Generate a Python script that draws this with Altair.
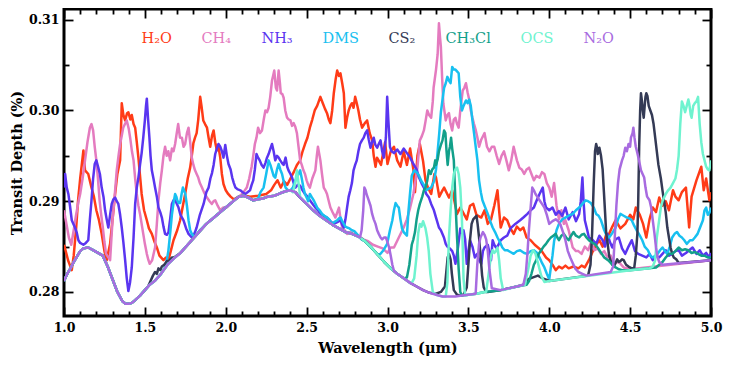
import altair as alt
import pandas as pd

NAMES = ["H₂O", "CH₄", "NH₃", "DMS", "CS₂", "CH₃Cl", "OCS", "N₂O"]
COLORS = ["#ff3b17", "#e47bbf", "#5a35f0", "#18c0f0", "#343a55", "#12a08a", "#6ff3cf", "#a86be0"]

X_TICKS = [1.0, 1.5, 2.0, 2.5, 3.0, 3.5, 4.0, 4.5, 5.0]
X_MINOR = [1.1, 1.2, 1.3, 1.4, 1.6, 1.7, 1.8, 1.9, 2.1, 2.2, 2.3, 2.4, 2.6, 2.7, 2.8, 2.9,
           3.1, 3.2, 3.3, 3.4, 3.6, 3.7, 3.8, 3.9, 4.1, 4.2, 4.3, 4.4, 4.6, 4.7, 4.8, 4.9]
Y_TICKS = [0.28, 0.29, 0.30, 0.31]
Y_MINOR = [0.285, 0.295, 0.305]

# shared continuum (wavelength um, transit depth %)
CONT = [(1.00, 0.2812), (1.02, 0.2820), (1.04, 0.2826), (1.06, 0.2833), (1.08, 0.2839), (1.10, 0.2845),
        (1.12, 0.2848), (1.15, 0.2849), (1.18, 0.2846), (1.21, 0.2843), (1.24, 0.2840), (1.27, 0.2828),
        (1.30, 0.2814), (1.33, 0.2800), (1.36, 0.2790), (1.38, 0.2787), (1.40, 0.2787), (1.42, 0.2788),
        (1.44, 0.2791), (1.47, 0.2796), (1.50, 0.2802), (1.53, 0.2808), (1.56, 0.2812), (1.60, 0.2820),
        (1.64, 0.2830), (1.68, 0.2837), (1.72, 0.2843), (1.76, 0.2851), (1.80, 0.2859), (1.84, 0.2867),
        (1.88, 0.2875), (1.92, 0.2881), (1.96, 0.2887), (2.00, 0.2893), (2.04, 0.2899), (2.08, 0.2905),
        (2.11, 0.2906), (2.14, 0.2904), (2.17, 0.2901), (2.20, 0.2902), (2.23, 0.2903), (2.26, 0.2905),
        (2.30, 0.2906), (2.34, 0.2909), (2.37, 0.2911), (2.40, 0.2912), (2.43, 0.2910), (2.46, 0.2904),
        (2.50, 0.2897), (2.54, 0.2890), (2.58, 0.2884), (2.62, 0.2879), (2.66, 0.2874), (2.70, 0.2870),
        (2.74, 0.2866), (2.78, 0.2864), (2.82, 0.2861), (2.86, 0.2856), (2.90, 0.2849), (2.94, 0.2841),
        (2.98, 0.2833), (3.02, 0.2826), (3.06, 0.2820), (3.10, 0.2815), (3.14, 0.2810), (3.18, 0.2806),
        (3.22, 0.2802), (3.26, 0.2799), (3.30, 0.2797), (3.34, 0.2795), (3.38, 0.2795), (3.42, 0.2795),
        (3.46, 0.2796), (3.50, 0.2797), (3.55, 0.2798), (3.60, 0.2800), (3.70, 0.2802), (3.80, 0.2806),
        (3.90, 0.2809), (4.00, 0.2812), (4.50, 0.2824), (5.00, 0.2835)]

H2O = [[(1.00, 0.2852), (1.005, 0.2849), (1.025, 0.2835), (1.048, 0.2824), (1.06, 0.2840), (1.075, 0.2870),
        (1.087, 0.2901), (1.10, 0.2925), (1.12, 0.2956), (1.13, 0.2934), (1.15, 0.2930), (1.17, 0.2915),
        (1.185, 0.2905), (1.20, 0.2890), (1.215, 0.2880), (1.233, 0.2864), (1.25, 0.2845), (1.264, 0.2835),
        (1.285, 0.2853), (1.30, 0.2880), (1.316, 0.2908), (1.33, 0.2930), (1.347, 0.2945), (1.357, 0.3008),
        (1.367, 0.2995), (1.378, 0.2989), (1.39, 0.2997), (1.398, 0.2998), (1.41, 0.2990), (1.419, 0.2995),
        (1.43, 0.2985), (1.44, 0.2981), (1.45, 0.2965), (1.46, 0.2948), (1.48, 0.2908), (1.495, 0.2890),
        (1.512, 0.2879), (1.525, 0.2870), (1.543, 0.2864), (1.56, 0.2855), (1.574, 0.2849), (1.59, 0.2840),
        (1.615, 0.2835), (1.63, 0.2838), (1.646, 0.2835), (1.66, 0.2845), (1.677, 0.2857), (1.70, 0.2868),
        (1.718, 0.2879), (1.735, 0.2895), (1.749, 0.2908), (1.765, 0.2925), (1.78, 0.2937), (1.79, 0.2950),
        (1.80, 0.2964), (1.81, 0.2970), (1.82, 0.2975), (1.83, 0.2990), (1.842, 0.3015), (1.85, 0.3005),
        (1.861, 0.2989), (1.872, 0.2985), (1.884, 0.2981), (1.894, 0.2970), (1.904, 0.2960), (1.915, 0.2972),
        (1.925, 0.2978), (1.935, 0.2965), (1.945, 0.2956), (1.955, 0.2960), (1.966, 0.2948), (1.976, 0.2930),
        (1.986, 0.2919), (2.00, 0.2912), (2.015, 0.2908), (2.03, 0.2905), (2.05, 0.2902), (2.07, 0.2904),
        (2.10, 0.2907), (2.15, 0.2905), (2.20, 0.2906), (2.25, 0.2908), (2.28, 0.2912), (2.30, 0.2918),
        (2.32, 0.2923), (2.34, 0.2915), (2.36, 0.2922), (2.38, 0.2918), (2.40, 0.2925), (2.42, 0.2932),
        (2.44, 0.2940), (2.46, 0.2945), (2.475, 0.2955), (2.49, 0.2963), (2.505, 0.2970), (2.52, 0.2981),
        (2.535, 0.2990), (2.55, 0.3000), (2.565, 0.3005), (2.585, 0.3015), (2.60, 0.3008), (2.613, 0.3002),
        (2.626, 0.2997), (2.637, 0.2990), (2.647, 0.2986), (2.658, 0.3000), (2.668, 0.3019), (2.68, 0.3035),
        (2.689, 0.3044), (2.70, 0.3038), (2.709, 0.3041), (2.72, 0.3030), (2.73, 0.3019), (2.74, 0.2981),
        (2.75, 0.2992), (2.76, 0.3000), (2.77, 0.3005), (2.78, 0.3008), (2.79, 0.3003), (2.80, 0.3015),
        (2.81, 0.3008), (2.82, 0.3000), (2.83, 0.2990), (2.843, 0.2981), (2.86, 0.2986), (2.874, 0.2989),
        (2.89, 0.2975), (2.905, 0.2967), (2.915, 0.2950), (2.926, 0.2938), (2.935, 0.2948), (2.945, 0.2945),
        (2.96, 0.2940), (2.97, 0.2950), (2.985, 0.2965), (3.00, 0.2941), (3.02, 0.2955), (3.04, 0.2960),
        (3.06, 0.2945), (3.08, 0.2938), (3.10, 0.2955), (3.12, 0.2940), (3.14, 0.2958), (3.16, 0.2935),
        (3.17, 0.2910), (3.185, 0.2950), (3.20, 0.2963), (3.22, 0.2944), (3.235, 0.2923), (3.25, 0.2915),
        (3.27, 0.2908), (3.29, 0.2930), (3.30, 0.2926), (3.32, 0.2905), (3.34, 0.2912), (3.35, 0.2915),
        (3.38, 0.2904), (3.40, 0.2912), (3.43, 0.2886), (3.45, 0.2893), (3.46, 0.2890), (3.49, 0.2880),
        (3.51, 0.2895), (3.53, 0.2897), (3.55, 0.2885), (3.58, 0.2882), (3.60, 0.2890), (3.62, 0.2875),
        (3.64, 0.2880), (3.66, 0.2895), (3.68, 0.2912), (3.69, 0.2890), (3.70, 0.2871), (3.72, 0.2882),
        (3.74, 0.2879), (3.76, 0.2870), (3.78, 0.2864), (3.80, 0.2872), (3.82, 0.2868), (3.84, 0.2871),
        (3.86, 0.2860), (3.885, 0.2857), (3.91, 0.2852), (3.93, 0.2849), (3.95, 0.2846), (3.965, 0.2842),
        (3.98, 0.2838), (4.00, 0.2835), (4.02, 0.2830), (4.04, 0.2824), (4.06, 0.2828), (4.08, 0.2826),
        (4.10, 0.2829), (4.12, 0.2826), (4.15, 0.2828), (4.18, 0.2826), (4.20, 0.2829), (4.22, 0.2827),
        (4.245, 0.2835), (4.27, 0.2845), (4.29, 0.2852), (4.31, 0.2857), (4.33, 0.2850), (4.35, 0.2862),
        (4.37, 0.2864), (4.39, 0.2872), (4.41, 0.2879), (4.44, 0.2870), (4.47, 0.2875), (4.50, 0.2885),
        (4.52, 0.2880), (4.535, 0.2893), (4.56, 0.2885), (4.58, 0.2875), (4.60, 0.2860), (4.62, 0.2880),
        (4.64, 0.2893), (4.66, 0.2888), (4.68, 0.2904), (4.70, 0.2895), (4.72, 0.2900), (4.74, 0.2890),
        (4.765, 0.2912), (4.78, 0.2905), (4.80, 0.2901), (4.82, 0.2910), (4.845, 0.2915), (4.865, 0.2871),
        (4.88, 0.2905), (4.91, 0.2923), (4.94, 0.2938), (4.955, 0.2912), (4.97, 0.2925), (4.99, 0.2901),
        (5.00, 0.2910)]]

CH4 = [[(1.00, 0.2890), (1.015, 0.2875), (1.03, 0.2860), (1.045, 0.2852), (1.06, 0.2868), (1.075, 0.2885),
        (1.09, 0.2900), (1.10, 0.2908), (1.115, 0.2925), (1.13, 0.2945), (1.145, 0.2965), (1.16, 0.2981),
        (1.17, 0.2985), (1.18, 0.2978), (1.19, 0.2960), (1.20, 0.2945), (1.21, 0.2925), (1.22, 0.2901),
        (1.23, 0.2885), (1.24, 0.2871), (1.25, 0.2855), (1.26, 0.2842), (1.275, 0.2838), (1.285, 0.2835),
        (1.30, 0.2879), (1.313, 0.2905), (1.326, 0.2934), (1.337, 0.2950), (1.347, 0.2963), (1.357, 0.2972),
        (1.366, 0.2981), (1.377, 0.2985), (1.388, 0.2989), (1.40, 0.2980), (1.409, 0.2970), (1.42, 0.2955),
        (1.43, 0.2945), (1.44, 0.2925), (1.45, 0.2908), (1.46, 0.2895), (1.47, 0.2886), (1.48, 0.2875),
        (1.49, 0.2864), (1.50, 0.2853), (1.512, 0.2842), (1.522, 0.2835), (1.53, 0.2831), (1.545, 0.2835),
        (1.563, 0.2849), (1.574, 0.2875), (1.584, 0.2901), (1.595, 0.2920), (1.605, 0.2934), (1.615, 0.2950),
        (1.625, 0.2960), (1.635, 0.2950), (1.645, 0.2955), (1.656, 0.2945), (1.667, 0.2958), (1.677, 0.2955),
        (1.687, 0.2963), (1.697, 0.2975), (1.706, 0.2985), (1.717, 0.2970), (1.729, 0.2970), (1.739, 0.2960),
        (1.749, 0.2963), (1.76, 0.2975), (1.77, 0.2981), (1.78, 0.2965), (1.79, 0.2948), (1.80, 0.2940),
        (1.81, 0.2934), (1.82, 0.2930), (1.83, 0.2926), (1.84, 0.2920), (1.853, 0.2915), (1.865, 0.2910),
        (1.884, 0.2904), (1.90, 0.2900), (1.914, 0.2897), (1.925, 0.2900), (1.935, 0.2901), (1.95, 0.2895),
        (1.966, 0.2890), (1.985, 0.2893), (2.007, 0.2893), (2.03, 0.2898), (2.06, 0.2902), (2.09, 0.2906),
        (2.11, 0.2910), (2.13, 0.2915), (2.145, 0.2925), (2.16, 0.2938), (2.17, 0.2950), (2.18, 0.2963),
        (2.19, 0.2970), (2.20, 0.2981), (2.212, 0.2975), (2.224, 0.2978), (2.235, 0.2990), (2.245, 0.3000),
        (2.255, 0.2998), (2.265, 0.3003), (2.275, 0.3015), (2.286, 0.3033), (2.295, 0.3040), (2.30, 0.3044),
        (2.31, 0.3025), (2.317, 0.3022), (2.327, 0.3044), (2.335, 0.3030), (2.34, 0.3019), (2.35, 0.3018),
        (2.358, 0.3014), (2.368, 0.3000), (2.379, 0.2992), (2.39, 0.2990), (2.40, 0.2989), (2.41, 0.2983),
        (2.42, 0.2986), (2.43, 0.2982), (2.44, 0.2975), (2.45, 0.2960), (2.46, 0.2945), (2.47, 0.2940),
        (2.48, 0.2934), (2.49, 0.2930), (2.50, 0.2923), (2.51, 0.2918), (2.52, 0.2915), (2.535, 0.2925),
        (2.554, 0.2934), (2.563, 0.2950), (2.57, 0.2960), (2.578, 0.2952), (2.585, 0.2945), (2.595, 0.2930),
        (2.606, 0.2915), (2.616, 0.2912), (2.626, 0.2908), (2.637, 0.2900), (2.647, 0.2893), (2.66, 0.2888),
        (2.678, 0.2882), (2.69, 0.2888), (2.70, 0.2893), (2.71, 0.2880), (2.72, 0.2871), (2.735, 0.2868),
        (2.75, 0.2864), (2.77, 0.2866), (2.79, 0.2864), (2.82, 0.2862), (2.85, 0.2858), (2.88, 0.2856),
        (2.91, 0.2852), (2.94, 0.2850), (2.97, 0.2848), (3.00, 0.2843), (3.02, 0.2849), (3.04, 0.2849),
        (3.07, 0.2860), (3.10, 0.2871), (3.12, 0.2880), (3.14, 0.2893), (3.16, 0.2908), (3.175, 0.2925),
        (3.185, 0.2937), (3.20, 0.2967), (3.213, 0.2972), (3.225, 0.2978), (3.235, 0.2988), (3.246, 0.3000),
        (3.257, 0.2995), (3.27, 0.2992), (3.28, 0.3010), (3.285, 0.3025), (3.30, 0.3045), (3.31, 0.3062),
        (3.318, 0.3096), (3.325, 0.3080), (3.33, 0.3070), (3.338, 0.3035), (3.345, 0.3008), (3.36, 0.2989),
        (3.37, 0.2995), (3.38, 0.2997), (3.39, 0.2985), (3.40, 0.2978), (3.41, 0.2990), (3.42, 0.2992),
        (3.43, 0.2985), (3.44, 0.2981), (3.45, 0.3000), (3.465, 0.3022), (3.475, 0.3025), (3.485, 0.3030),
        (3.495, 0.3020), (3.505, 0.3012), (3.515, 0.3000), (3.525, 0.2992), (3.535, 0.2985), (3.546, 0.2978),
        (3.556, 0.2970), (3.566, 0.2960), (3.58, 0.2968), (3.60, 0.2975), (3.615, 0.2960), (3.63, 0.2955),
        (3.645, 0.2960), (3.66, 0.2960), (3.675, 0.2950), (3.69, 0.2941), (3.705, 0.2950), (3.72, 0.2955),
        (3.735, 0.2945), (3.75, 0.2934), (3.765, 0.2945), (3.78, 0.2960), (3.80, 0.2945), (3.815, 0.2937),
        (3.83, 0.2935), (3.845, 0.2930), (3.86, 0.2935), (3.875, 0.2937), (3.89, 0.2930), (3.905, 0.2923),
        (3.92, 0.2928), (3.94, 0.2926), (3.955, 0.2932), (3.97, 0.2930), (3.985, 0.2920), (4.00, 0.2915),
        (4.015, 0.2905), (4.03, 0.2920), (4.045, 0.2895), (4.06, 0.2880), (4.075, 0.2890), (4.09, 0.2875),
        (4.10, 0.2879), (4.12, 0.2868), (4.145, 0.2849), (4.165, 0.2845), (4.18, 0.2845), (4.20, 0.2842),
        (4.22, 0.2850), (4.24, 0.2846), (4.26, 0.2855), (4.28, 0.2846), (4.30, 0.2848), (4.32, 0.2842),
        (4.34, 0.2845), (4.36, 0.2838), (4.38, 0.2840), (4.40, 0.2832), (4.43, 0.2833), (4.46, 0.2827),
        (4.50, 0.2825)]]

NH3 = [[(1.00, 0.2915), (1.007, 0.2930), (1.017, 0.2915), (1.027, 0.2908), (1.037, 0.2895), (1.048, 0.2879),
        (1.058, 0.2875), (1.068, 0.2871), (1.078, 0.2866), (1.089, 0.2857), (1.10, 0.2854), (1.12, 0.2852),
        (1.135, 0.2854), (1.15, 0.2857), (1.16, 0.2880), (1.17, 0.2901), (1.18, 0.2925), (1.19, 0.2941),
        (1.20, 0.2945), (1.212, 0.2937), (1.222, 0.2930), (1.233, 0.2915), (1.244, 0.2905), (1.254, 0.2890),
        (1.264, 0.2880), (1.274, 0.2871), (1.285, 0.2885), (1.295, 0.2897), (1.305, 0.2902), (1.316, 0.2904),
        (1.326, 0.2900), (1.336, 0.2897), (1.347, 0.2885), (1.357, 0.2871), (1.367, 0.2855), (1.378, 0.2835),
        (1.388, 0.2815), (1.398, 0.2801), (1.408, 0.2810), (1.419, 0.2827), (1.43, 0.2860), (1.44, 0.2897),
        (1.45, 0.2915), (1.46, 0.2926), (1.47, 0.2940), (1.48, 0.2953), (1.49, 0.2970), (1.50, 0.2989),
        (1.507, 0.3005), (1.512, 0.3013), (1.52, 0.2990), (1.528, 0.2970), (1.535, 0.2950), (1.543, 0.2934),
        (1.553, 0.2925), (1.563, 0.2915), (1.574, 0.2905), (1.584, 0.2893), (1.595, 0.2888), (1.605, 0.2882),
        (1.615, 0.2872), (1.625, 0.2864), (1.636, 0.2863), (1.646, 0.2866), (1.656, 0.2880), (1.667, 0.2897),
        (1.677, 0.2901), (1.687, 0.2901), (1.698, 0.2897), (1.708, 0.2893), (1.72, 0.2885), (1.739, 0.2879),
        (1.755, 0.2870), (1.77, 0.2864), (1.78, 0.2862), (1.79, 0.2860), (1.80, 0.2862), (1.81, 0.2866),
        (1.82, 0.2871), (1.84, 0.2885), (1.863, 0.2897), (1.88, 0.2910), (1.894, 0.2915), (1.905, 0.2925),
        (1.915, 0.2931), (1.925, 0.2940), (1.935, 0.2952), (1.945, 0.2958), (1.955, 0.2963), (1.966, 0.2960),
        (1.976, 0.2955), (1.986, 0.2948), (1.997, 0.2962), (2.007, 0.2950), (2.017, 0.2941), (2.03, 0.2935),
        (2.04, 0.2926), (2.05, 0.2920), (2.06, 0.2915), (2.075, 0.2913), (2.09, 0.2912), (2.105, 0.2910),
        (2.12, 0.2908), (2.135, 0.2910), (2.15, 0.2912), (2.16, 0.2918), (2.17, 0.2923), (2.18, 0.2935),
        (2.19, 0.2952), (2.20, 0.2948), (2.21, 0.2945), (2.222, 0.2940), (2.234, 0.2937), (2.245, 0.2942),
        (2.255, 0.2948), (2.265, 0.2952), (2.276, 0.2958), (2.286, 0.2963), (2.296, 0.2955), (2.306, 0.2945),
        (2.317, 0.2950), (2.327, 0.2948), (2.337, 0.2945), (2.348, 0.2942), (2.358, 0.2940), (2.37, 0.2948),
        (2.38, 0.2938), (2.388, 0.2934), (2.40, 0.2930), (2.41, 0.2926), (2.42, 0.2920), (2.43, 0.2915),
        (2.445, 0.2918), (2.46, 0.2917), (2.475, 0.2912), (2.49, 0.2908), (2.505, 0.2905), (2.52, 0.2901),
        (2.537, 0.2897), (2.554, 0.2893), (2.57, 0.2890), (2.585, 0.2886), (2.605, 0.2884), (2.626, 0.2882),
        (2.647, 0.2878), (2.667, 0.2875), (2.69, 0.2877), (2.71, 0.2879), (2.72, 0.2874), (2.73, 0.2871),
        (2.74, 0.2880), (2.75, 0.2893), (2.76, 0.2905), (2.77, 0.2912), (2.78, 0.2920), (2.79, 0.2934),
        (2.80, 0.2940), (2.81, 0.2945), (2.82, 0.2955), (2.83, 0.2963), (2.842, 0.2967), (2.853, 0.2970),
        (2.863, 0.2975), (2.874, 0.2978), (2.884, 0.2968), (2.895, 0.2959), (2.905, 0.2965), (2.915, 0.2970),
        (2.925, 0.2962), (2.936, 0.2959), (2.946, 0.2963), (2.957, 0.2967), (2.967, 0.2955), (2.977, 0.2948),
        (2.99, 0.2970), (2.998, 0.3015), (3.005, 0.2990), (3.015, 0.2960), (3.025, 0.2955), (3.04, 0.2953),
        (3.06, 0.2957), (3.08, 0.2952), (3.10, 0.2958), (3.12, 0.2953), (3.14, 0.2948), (3.16, 0.2941),
        (3.18, 0.2935), (3.195, 0.2926), (3.21, 0.2920), (3.225, 0.2915), (3.24, 0.2908), (3.256, 0.2904),
        (3.27, 0.2897), (3.287, 0.2890), (3.30, 0.2882), (3.318, 0.2871), (3.33, 0.2868), (3.349, 0.2860),
        (3.36, 0.2853), (3.37, 0.2850), (3.385, 0.2848), (3.40, 0.2845), (3.41, 0.2840), (3.42, 0.2831),
        (3.435, 0.2848), (3.45, 0.2870), (3.46, 0.2865), (3.47, 0.2868), (3.48, 0.2858), (3.49, 0.2831),
        (3.50, 0.2845), (3.51, 0.2857), (3.525, 0.2850), (3.54, 0.2838), (3.555, 0.2842), (3.566, 0.2835),
        (3.58, 0.2831), (3.59, 0.2845), (3.60, 0.2849), (3.62, 0.2852), (3.64, 0.2835), (3.65, 0.2857),
        (3.66, 0.2852), (3.67, 0.2849), (3.68, 0.2850), (3.70, 0.2857), (3.72, 0.2860), (3.74, 0.2862),
        (3.76, 0.2870), (3.79, 0.2875), (3.82, 0.2879), (3.84, 0.2882), (3.865, 0.2886), (3.885, 0.2890),
        (3.905, 0.2893), (3.92, 0.2900), (3.94, 0.2908), (3.96, 0.2915), (3.97, 0.2900), (3.98, 0.2893),
        (4.00, 0.2890), (4.02, 0.2893), (4.04, 0.2885), (4.06, 0.2889), (4.08, 0.2884), (4.10, 0.2893),
        (4.12, 0.2880), (4.145, 0.2888), (4.165, 0.2878), (4.185, 0.2886), (4.195, 0.2900), (4.205, 0.2926),
        (4.212, 0.2900), (4.22, 0.2879), (4.235, 0.2868), (4.245, 0.2860), (4.265, 0.2858), (4.29, 0.2853),
        (4.31, 0.2862), (4.33, 0.2857), (4.345, 0.2850), (4.36, 0.2864), (4.375, 0.2855), (4.39, 0.2849),
        (4.41, 0.2858), (4.43, 0.2860), (4.45, 0.2848), (4.47, 0.2842), (4.49, 0.2850), (4.51, 0.2857),
        (4.53, 0.2845), (4.55, 0.2842), (4.575, 0.2840), (4.60, 0.2838), (4.62, 0.2842), (4.64, 0.2835),
        (4.66, 0.2840), (4.68, 0.2838), (4.70, 0.2842), (4.72, 0.2846), (4.74, 0.2840), (4.76, 0.2842),
        (4.78, 0.2845), (4.80, 0.2846), (4.82, 0.2840), (4.845, 0.2843), (4.865, 0.2846), (4.886, 0.2849),
        (4.91, 0.2842), (4.93, 0.2846), (4.95, 0.2840), (4.97, 0.2843), (4.99, 0.2838), (5.00, 0.2843)]]

DMS = [[(1.63, 0.2829), (1.645, 0.2845), (1.656, 0.2864), (1.667, 0.2885), (1.677, 0.2898), (1.687, 0.2908),
        (1.695, 0.2905), (1.70, 0.2901), (1.71, 0.2898), (1.718, 0.2898), (1.727, 0.2908), (1.735, 0.2915),
        (1.742, 0.2912), (1.75, 0.2908), (1.76, 0.2895), (1.77, 0.2879), (1.78, 0.2868), (1.79, 0.2864),
        (1.80, 0.2862), (1.81, 0.2861), (1.82, 0.2863), (1.84, 0.2868)],
       [(2.20, 0.2903), (2.215, 0.2910), (2.234, 0.2915), (2.25, 0.2930), (2.265, 0.2945), (2.276, 0.2940),
        (2.286, 0.2934), (2.296, 0.2928), (2.306, 0.2926), (2.317, 0.2935), (2.327, 0.2941), (2.337, 0.2935),
        (2.348, 0.2930), (2.358, 0.2922), (2.37, 0.2915), (2.385, 0.2912), (2.40, 0.2912), (2.415, 0.2915),
        (2.43, 0.2923), (2.445, 0.2928), (2.46, 0.2934), (2.47, 0.2925), (2.48, 0.2915), (2.49, 0.2908),
        (2.50, 0.2904), (2.51, 0.2900), (2.52, 0.2908), (2.53, 0.2905), (2.544, 0.2901), (2.555, 0.2897),
        (2.565, 0.2893), (2.58, 0.2890), (2.596, 0.2886), (2.61, 0.2884), (2.626, 0.2882), (2.64, 0.2880),
        (2.657, 0.2875), (2.67, 0.2877), (2.689, 0.2879), (2.70, 0.2881), (2.71, 0.2882), (2.72, 0.2878),
        (2.73, 0.2875), (2.74, 0.2872), (2.75, 0.2871), (2.765, 0.2870), (2.78, 0.2868), (2.795, 0.2867),
        (2.81, 0.2864), (2.825, 0.2861), (2.84, 0.2858)],
       [(2.94, 0.2841), (2.957, 0.2842), (2.975, 0.2846), (2.998, 0.2853), (3.015, 0.2868), (3.03, 0.2879),
        (3.04, 0.2890), (3.05, 0.2898), (3.06, 0.2895), (3.07, 0.2893), (3.08, 0.2880), (3.09, 0.2870),
        (3.10, 0.2866), (3.12, 0.2862), (3.13, 0.2890), (3.14, 0.2910), (3.15, 0.2928), (3.165, 0.2934),
        (3.18, 0.2932), (3.195, 0.2928), (3.21, 0.2922), (3.225, 0.2918), (3.24, 0.2912), (3.256, 0.2914),
        (3.27, 0.2915), (3.287, 0.2922), (3.30, 0.2935), (3.31, 0.2955), (3.32, 0.2975), (3.33, 0.2998),
        (3.34, 0.3012), (3.35, 0.3025), (3.36, 0.3030), (3.37, 0.3037), (3.38, 0.3033), (3.39, 0.3030),
        (3.40, 0.3048), (3.41, 0.3045), (3.42, 0.3045), (3.43, 0.3043), (3.44, 0.3041), (3.45, 0.3015),
        (3.46, 0.3000), (3.47, 0.3005), (3.485, 0.3011), (3.495, 0.3008), (3.505, 0.3012), (3.515, 0.3005),
        (3.525, 0.2989), (3.535, 0.2975), (3.546, 0.2959), (3.556, 0.2945), (3.566, 0.2923), (3.577, 0.2910),
        (3.587, 0.2901), (3.60, 0.2895), (3.62, 0.2886), (3.635, 0.2878), (3.65, 0.2871), (3.665, 0.2866),
        (3.68, 0.2860), (3.695, 0.2855), (3.71, 0.2849), (3.725, 0.2846), (3.74, 0.2846), (3.76, 0.2844),
        (3.78, 0.2842), (3.80, 0.2845), (3.82, 0.2846), (3.845, 0.2843), (3.865, 0.2842), (3.885, 0.2845),
        (3.905, 0.2846), (3.925, 0.2843), (3.94, 0.2838), (3.955, 0.2832), (3.97, 0.2827), (3.985, 0.2820),
        (4.00, 0.2814), (4.01, 0.2827), (4.02, 0.2840), (4.03, 0.2856), (4.045, 0.2868), (4.06, 0.2875),
        (4.08, 0.2880), (4.10, 0.2882), (4.12, 0.2884), (4.145, 0.2886), (4.165, 0.2890), (4.185, 0.2893),
        (4.205, 0.2897), (4.225, 0.2901), (4.24, 0.2900), (4.257, 0.2898), (4.275, 0.2893), (4.29, 0.2886),
        (4.305, 0.2884), (4.32, 0.2879), (4.34, 0.2868), (4.355, 0.2862), (4.37, 0.2860), (4.39, 0.2865),
        (4.41, 0.2871), (4.425, 0.2880), (4.44, 0.2886), (4.46, 0.2884), (4.48, 0.2882), (4.495, 0.2881),
        (4.51, 0.2879), (4.525, 0.2873), (4.54, 0.2868), (4.56, 0.2862), (4.575, 0.2857), (4.59, 0.2850),
        (4.61, 0.2846), (4.625, 0.2840), (4.64, 0.2838), (4.655, 0.2840), (4.67, 0.2842), (4.685, 0.2846),
        (4.70, 0.2849), (4.715, 0.2845), (4.73, 0.2842), (4.745, 0.2850), (4.76, 0.2860), (4.775, 0.2864),
        (4.79, 0.2866), (4.805, 0.2862), (4.82, 0.2860), (4.835, 0.2857), (4.85, 0.2853), (4.87, 0.2857),
        (4.886, 0.2857), (4.90, 0.2860), (4.917, 0.2864), (4.93, 0.2870), (4.95, 0.2879), (4.96, 0.2890),
        (4.97, 0.2893), (4.98, 0.2885), (4.99, 0.2887), (5.00, 0.2893)]]

CS2 = [[(1.52, 0.2806), (1.535, 0.2812), (1.55, 0.2818), (1.563, 0.2822), (1.574, 0.2820), (1.584, 0.2826),
        (1.595, 0.2824), (1.605, 0.2828), (1.62, 0.2830), (1.636, 0.2834), (1.65, 0.2834), (1.667, 0.2838),
        (1.68, 0.2838)],
       [(3.30, 0.2798), (3.33, 0.2800), (3.355, 0.2806), (3.365, 0.2825), (3.372, 0.2838), (3.38, 0.2842),
        (3.39, 0.2836), (3.398, 0.2820), (3.41, 0.2802), (3.43, 0.2797), (3.45, 0.2796), (3.47, 0.2797),
        (3.49, 0.2805), (3.50, 0.2830), (3.51, 0.2857), (3.52, 0.2875), (3.53, 0.2880), (3.54, 0.2882),
        (3.55, 0.2884), (3.557, 0.2875), (3.566, 0.2860), (3.575, 0.2840), (3.585, 0.2818), (3.595, 0.2805),
        (3.61, 0.2800), (3.62, 0.2800)],
       [(3.84, 0.2808), (3.87, 0.2814), (3.90, 0.2816), (3.93, 0.2818), (3.96, 0.2815), (3.99, 0.2813)],
       [(4.24, 0.2818), (4.255, 0.2830), (4.265, 0.2865), (4.275, 0.2920), (4.283, 0.2955), (4.29, 0.2963),
        (4.297, 0.2958), (4.30, 0.2952), (4.305, 0.2955), (4.31, 0.2959), (4.32, 0.2950), (4.33, 0.2935),
        (4.338, 0.2910), (4.345, 0.2888), (4.352, 0.2865), (4.36, 0.2855), (4.37, 0.2840), (4.38, 0.2834),
        (4.39, 0.2830), (4.40, 0.2828), (4.41, 0.2832), (4.42, 0.2836), (4.43, 0.2833), (4.44, 0.2834),
        (4.45, 0.2836), (4.46, 0.2835), (4.475, 0.2830), (4.49, 0.2828), (4.51, 0.2826), (4.525, 0.2826),
        (4.535, 0.2840), (4.545, 0.2865), (4.55, 0.2900), (4.556, 0.2960), (4.562, 0.3000), (4.567, 0.3019),
        (4.572, 0.3012), (4.578, 0.3000), (4.584, 0.2992), (4.59, 0.3005), (4.595, 0.3015), (4.60, 0.3019),
        (4.607, 0.3016), (4.615, 0.3005), (4.625, 0.3000), (4.635, 0.2995), (4.645, 0.2985), (4.655, 0.2970),
        (4.665, 0.2955), (4.675, 0.2940), (4.69, 0.2925), (4.70, 0.2912), (4.71, 0.2900), (4.72, 0.2888),
        (4.73, 0.2871), (4.74, 0.2860), (4.75, 0.2849), (4.76, 0.2842), (4.77, 0.2838), (4.785, 0.2836),
        (4.80, 0.2832)]]

CH3CL = [[(3.10, 0.2815), (3.12, 0.2816), (3.135, 0.2830), (3.15, 0.2852), (3.16, 0.2858), (3.17, 0.2866),
          (3.18, 0.2880), (3.19, 0.2890), (3.20, 0.2897), (3.215, 0.2905), (3.225, 0.2912), (3.235, 0.2915),
          (3.245, 0.2922), (3.256, 0.2934), (3.267, 0.2930), (3.277, 0.2935), (3.287, 0.2937), (3.295, 0.2945),
          (3.30, 0.2940), (3.31, 0.2946), (3.318, 0.2955), (3.33, 0.2962), (3.34, 0.2967), (3.35, 0.2978),
          (3.358, 0.2975), (3.365, 0.2955), (3.372, 0.2940), (3.38, 0.2955), (3.386, 0.2960), (3.393, 0.2970),
          (3.40, 0.2958), (3.41, 0.2945), (3.42, 0.2900), (3.43, 0.2860), (3.44, 0.2825), (3.45, 0.2800)],
         [(3.86, 0.2808), (3.875, 0.2812), (3.89, 0.2820), (3.905, 0.2830), (3.92, 0.2835), (3.935, 0.2842),
          (3.95, 0.2846), (3.965, 0.2850), (3.98, 0.2853), (3.995, 0.2857), (4.01, 0.2860), (4.025, 0.2862),
          (4.04, 0.2864), (4.05, 0.2860), (4.06, 0.2857), (4.075, 0.2862), (4.09, 0.2864), (4.105, 0.2860),
          (4.12, 0.2857), (4.135, 0.2862), (4.15, 0.2866), (4.165, 0.2862), (4.185, 0.2860), (4.20, 0.2863),
          (4.215, 0.2864), (4.23, 0.2860), (4.245, 0.2857), (4.26, 0.2855), (4.28, 0.2853), (4.295, 0.2850),
          (4.31, 0.2846), (4.325, 0.2842), (4.34, 0.2838), (4.355, 0.2836), (4.37, 0.2834), (4.39, 0.2830),
          (4.41, 0.2827), (4.43, 0.2825), (4.45, 0.2824)],
         [(4.66, 0.2827), (4.68, 0.2830), (4.70, 0.2833), (4.72, 0.2838), (4.74, 0.2842), (4.76, 0.2842),
          (4.78, 0.2845), (4.80, 0.2849), (4.82, 0.2846), (4.84, 0.2847), (4.86, 0.2846), (4.88, 0.2843),
          (4.90, 0.2844), (4.92, 0.2842), (4.94, 0.2840), (4.96, 0.2840), (4.98, 0.2838), (5.00, 0.2838)]]

OCS = [[(2.415, 0.2910), (2.43, 0.2920), (2.44, 0.2934), (2.45, 0.2920), (2.46, 0.2905)],
       [(3.15, 0.2810), (3.165, 0.2815), (3.18, 0.2840), (3.19, 0.2865), (3.20, 0.2875), (3.21, 0.2872),
        (3.22, 0.2878), (3.235, 0.2870), (3.245, 0.2860), (3.255, 0.2845), (3.265, 0.2820), (3.28, 0.2800)],
       [(3.36, 0.2795), (3.37, 0.2810), (3.38, 0.2860), (3.39, 0.2890), (3.40, 0.2915), (3.41, 0.2930),
        (3.42, 0.2935), (3.43, 0.2937), (3.44, 0.2930), (3.45, 0.2915), (3.46, 0.2880), (3.465, 0.2850),
        (3.47, 0.2815), (3.48, 0.2796)],
       [(3.61, 0.2800), (3.625, 0.2820), (3.64, 0.2840), (3.65, 0.2846), (3.66, 0.2843), (3.67, 0.2845),
        (3.68, 0.2849), (3.69, 0.2835), (3.70, 0.2815), (3.715, 0.2802)],
       [(3.85, 0.2808), (3.87, 0.2825), (3.885, 0.2840), (3.90, 0.2846), (3.915, 0.2842), (3.93, 0.2832),
        (3.95, 0.2818), (3.97, 0.2811)],
       [(4.62, 0.2826), (4.64, 0.2828), (4.655, 0.2835), (4.665, 0.2860), (4.68, 0.2880), (4.69, 0.2893),
        (4.70, 0.2900), (4.71, 0.2904), (4.72, 0.2908), (4.735, 0.2912), (4.75, 0.2915), (4.765, 0.2920),
        (4.78, 0.2925), (4.79, 0.2935), (4.80, 0.2950), (4.81, 0.2985), (4.82, 0.3010), (4.83, 0.3005),
        (4.84, 0.2998), (4.85, 0.3005), (4.86, 0.3012), (4.865, 0.3008), (4.875, 0.2995), (4.88, 0.2992),
        (4.89, 0.3005), (4.90, 0.3008), (4.91, 0.3010), (4.92, 0.3015), (4.93, 0.2985), (4.94, 0.2965),
        (4.95, 0.2952), (4.96, 0.2945), (4.97, 0.2938), (4.98, 0.2935), (4.99, 0.2934), (5.00, 0.2945)]]

N2O = [[(2.83, 0.2860), (2.84, 0.2868), (2.85, 0.2890), (2.857, 0.2915), (2.865, 0.2912), (2.87, 0.2908),
        (2.884, 0.2901), (2.895, 0.2895), (2.905, 0.2886), (2.915, 0.2880), (2.926, 0.2875), (2.936, 0.2868),
        (2.946, 0.2864), (2.957, 0.2860), (2.967, 0.2858), (2.978, 0.2860), (2.99, 0.2860), (3.00, 0.2855),
        (3.01, 0.2849), (3.02, 0.2840), (3.03, 0.2830), (3.04, 0.2823)],
       [(3.545, 0.2798), (3.555, 0.2830), (3.566, 0.2853), (3.575, 0.2860), (3.59, 0.2866), (3.60, 0.2863),
        (3.61, 0.2858), (3.62, 0.2845), (3.63, 0.2825), (3.645, 0.2804)],
       [(3.84, 0.2808), (3.855, 0.2820), (3.865, 0.2842), (3.875, 0.2870), (3.885, 0.2893), (3.895, 0.2915),
        (3.905, 0.2912), (3.915, 0.2908), (3.93, 0.2904), (3.94, 0.2901), (3.955, 0.2897), (3.97, 0.2893),
        (3.985, 0.2885), (4.00, 0.2875), (4.02, 0.2878), (4.04, 0.2880), (4.055, 0.2878), (4.07, 0.2874),
        (4.085, 0.2866), (4.10, 0.2857), (4.115, 0.2845), (4.13, 0.2838), (4.145, 0.2832), (4.16, 0.2826),
        (4.18, 0.2822), (4.205, 0.2820), (4.23, 0.2818)],
       [(4.38, 0.2822), (4.395, 0.2828), (4.405, 0.2860), (4.415, 0.2895), (4.425, 0.2920), (4.435, 0.2935),
        (4.45, 0.2945), (4.46, 0.2950), (4.47, 0.2959), (4.48, 0.2955), (4.49, 0.2963), (4.50, 0.2960),
        (4.505, 0.2970), (4.515, 0.2975), (4.52, 0.2981), (4.527, 0.2970), (4.535, 0.2960), (4.545, 0.2953),
        (4.555, 0.2945), (4.567, 0.2934), (4.577, 0.2930), (4.587, 0.2926), (4.595, 0.2915), (4.605, 0.2905),
        (4.62, 0.2901), (4.63, 0.2893), (4.64, 0.2879), (4.65, 0.2865), (4.66, 0.2849), (4.67, 0.2838),
        (4.68, 0.2833), (4.70, 0.2830)]]

SPECIES = [H2O, CH4, NH3, DMS, CS2, CH3CL, OCS, N2O]


def build(bands):
    """Species points = its own band points, plus the shared continuum outside its bands."""
    ranges = [(b[0][0], b[-1][0]) for b in bands]
    pts = [p for p in CONT if not any(lo <= p[0] <= hi for lo, hi in ranges)]
    for b in bands:
        pts += b
    return sorted(pts)


rows = []
for k, (name, bands) in enumerate(zip(NAMES, SPECIES)):
    for w, d in build(bands):
        rows.append({"species": name, "k": k, "wl": w, "depth": d})
df = pd.DataFrame(rows)
cont_df = pd.DataFrame(CONT, columns=["wl", "depth"])

W, H = 647, 307
FONT = "DejaVu Serif"
xs = alt.Scale(domain=[1.0, 5.0], nice=False, zero=False)
ys = alt.Scale(domain=[0.27735, 0.31118], nice=False, zero=False)

lines = alt.Chart(df).mark_line(strokeWidth=2.5, clip=True, strokeJoin="round").encode(
    x=alt.X("wl:Q", scale=xs,
            axis=alt.Axis(orient="bottom", values=X_TICKS, format=".1f", ticks=False, tickSize=0,
                          domain=False, grid=False, labelPadding=5, labelFlush=False,
                          labelOverlap=False, title="Wavelength (μm)", titlePadding=8)),
    y=alt.Y("depth:Q", scale=ys,
            axis=alt.Axis(orient="left", values=Y_TICKS, format=".2f", ticks=False, tickSize=0,
                          domain=False, grid=False, labelPadding=5, labelFlush=False,
                          labelOverlap=False, title="Transit Depth (%)", titlePadding=4)),
    color=alt.Color("species:N", scale=alt.Scale(domain=NAMES, range=COLORS),
                    legend=alt.Legend(orient="none", legendX=63, legendY=23, direction="horizontal",
                                      columns=8, title=None, symbolSize=0, symbolStrokeWidth=0,
                                      symbolOpacity=0, labelOffset=0, columnPadding=15, padding=0,
                                      labelFont=FONT, labelFontSize=14.5,
                                      labelColor={"expr": "scale('color', datum.value)"})),
    detail="k:O",
)


def tick_axis(orient, offset, values, size):
    return alt.Axis(orient=orient, offset=offset, values=values, tickSize=size, tickWidth=1.8,
                    tickColor="black", labels=False, domain=False, grid=False, title=None)


def tick_layer(xa, ya):
    return alt.Chart(cont_df).mark_point(opacity=0).encode(
        x=alt.X("wl:Q", scale=xs, axis=xa),
        y=alt.Y("depth:Q", scale=ys, axis=ya),
    )


layers = [
    lines,
    tick_layer(tick_axis("top", -H, X_TICKS, 9), tick_axis("right", -W, Y_TICKS, 9)),
    tick_layer(tick_axis("top", -H, X_MINOR, 5), tick_axis("right", -W, Y_MINOR, 5)),
    tick_layer(tick_axis("bottom", -H, X_TICKS, 9), tick_axis("left", -W, Y_TICKS, 9)),
    tick_layer(tick_axis("bottom", -H, X_MINOR, 5), tick_axis("left", -W, Y_MINOR, 5)),
]

chart = alt.layer(*layers).resolve_axis(x="independent", y="independent").properties(
    width=W, height=H,
    autosize=alt.AutoSizeParams(type="none"),
    padding={"left": 56, "top": 1, "right": 12, "bottom": 46},
).configure_view(stroke="black", strokeWidth=3).configure_axis(
    labelFont=FONT, labelFontWeight="bold", labelFontSize=12.5, labelColor="black",
    titleFont=FONT, titleFontWeight="bold", titleFontSize=14.5, titleColor="black",
)

chart.save("out.html", embed_options={"renderer": "svg", "actions": False})
